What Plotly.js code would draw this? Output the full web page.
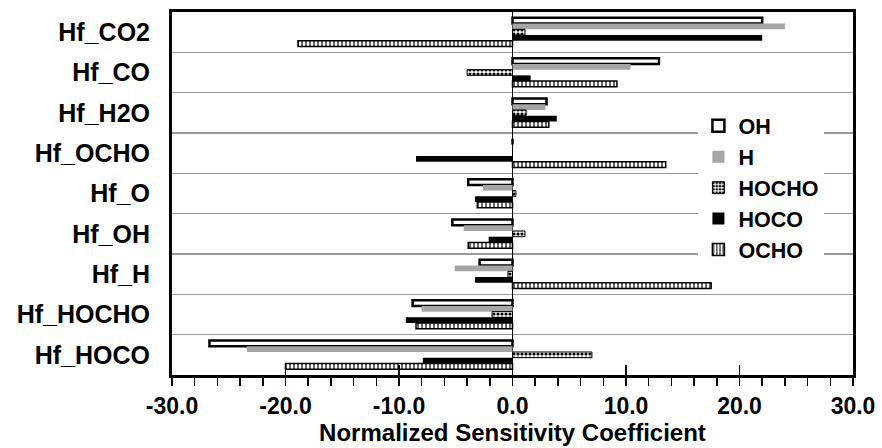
<!DOCTYPE html>
<html><head><meta charset="utf-8">
<script src="https://cdn.plot.ly/plotly-3.0.1.min.js"></script>
<style>html,body{margin:0;padding:0;background:#fff}#chart{width:882px;height:448px}</style>
</head><body><div id="chart"></div>
<script>
const categories = ['Hf_CO2','Hf_CO','Hf_H2O','Hf_OCHO','Hf_O','Hf_OH','Hf_H','Hf_HOCHO','Hf_HOCO'];
const seriesNames = ['OH','H','HOCHO','HOCO','OCHO'];
const valsOH    = [22.0, 12.9, 3.0, 0, -3.9, -5.3, -2.9, -8.8, -26.7];
const valsH     = [24.0, 10.4, 2.9, 0, -2.6, -4.3, -5.1, -8.0, -23.4];
const valsHOCHO = [1.1, -4.0, 1.2, 0, 0.3, 1.1, -0.4, -1.8, 7.0];
const valsHOCO  = [22.0, 1.6, 3.9, -8.5, -3.3, -2.1, -3.3, -9.4, -7.9];
const valsOCHO  = [-18.9, 9.2, 3.2, 13.5, -3.1, -3.9, 17.5, -8.5, -20.0];
const xTickVals = [-30, -20, -10, 0, 10, 20, 30];
const xTickText = ['-30.0', '-20.0', '-10.0', '0.0', '10.0', '20.0', '30.0'];

const F = 'Liberation Sans, Arial, sans-serif';
function bar(name, vals, marker) {
  return {type:'bar', orientation:'h', name:name, x:vals, y:categories,
          marker:marker, xaxis:'x', yaxis:'y', hoverinfo:'x+y'};
}
const traces = [
  bar(seriesNames[0], valsOH, {color:'#ffffff', line:{color:'#000', width:2.5}}),
  bar(seriesNames[1], valsH, {color:'#a6a6a6', line:{width:0}}),
  bar(seriesNames[2], valsHOCHO, {color:'#ffffff', line:{color:'#000', width:1},
      pattern:{shape:'.', fgcolor:'#000', bgcolor:'#fff', size:4, solidity:0.5}}),
  bar(seriesNames[3], valsHOCO, {color:'#000000', line:{width:0}}),
  bar(seriesNames[4], valsOCHO, {color:'#ffffff', line:{color:'#000', width:1.5},
      pattern:{shape:'|', fgcolor:'#000', bgcolor:'#fff', size:4, solidity:0.3}}),
  {type:'scatter', x:[], y:[], xaxis:'x2', yaxis:'y', showlegend:false, hoverinfo:'skip'}
];
const layout = {
  width:882, height:448,
  margin:{l:172, r:29, t:12, b:73},
  paper_bgcolor:'#fff', plot_bgcolor:'#fff',
  barmode:'group', bargap:0.29, bargroupgap:0,
  font:{family:F, color:'#000'},
  xaxis:{range:[-30,30], tickvals:xTickVals, ticktext:xTickText,
         ticks:'outside', ticklen:8, tickwidth:1.5, tickcolor:'#000',
         minor:{dtick:2, tick0:0, ticks:'outside', ticklen:8, tickwidth:1.5, tickcolor:'#000', showgrid:false},
         showgrid:false, zeroline:true, zerolinecolor:'#000', zerolinewidth:1.5,
         showline:true, linecolor:'#000', linewidth:3, mirror:true,
         ticklabelstandoff:0,
         tickfont:{family:F, size:23, weight:'bold', color:'#000'},
         title:{text:'Normalized Sensitivity Coefficient', standoff:1,
                font:{family:F, size:24, weight:'bold', color:'#000'}}},
  xaxis2:{range:[-30,30], overlaying:'x', anchor:'y', side:'bottom', tickvals:xTickVals,
          ticks:'inside', ticklen:10, tickwidth:1.5, tickcolor:'#000',
          showticklabels:false, showgrid:false, zeroline:false, showline:false},
  yaxis:{type:'category', autorange:'reversed', tickson:'boundaries', ticks:'',
         showgrid:true, gridcolor:'#999999', gridwidth:1.5,
         showline:true, linecolor:'#000', linewidth:3, mirror:true,
         ticklabelstandoff:14,
         tickfont:{family:F, size:25, weight:'bold', color:'#000'}},
  legend:{x:0.773, y:0.743, xanchor:'left', yanchor:'top', bgcolor:'#fff',
          borderwidth:0, tracegroupgap:0, entrywidth:150, entrywidthmode:'pixels',
          font:{family:F, size:21.5, weight:'bold', color:'#000'}},
  showlegend:true
};
Plotly.newPlot('chart', traces, layout, {displayModeBar:false, staticPlot:true});
</script></body></html>
